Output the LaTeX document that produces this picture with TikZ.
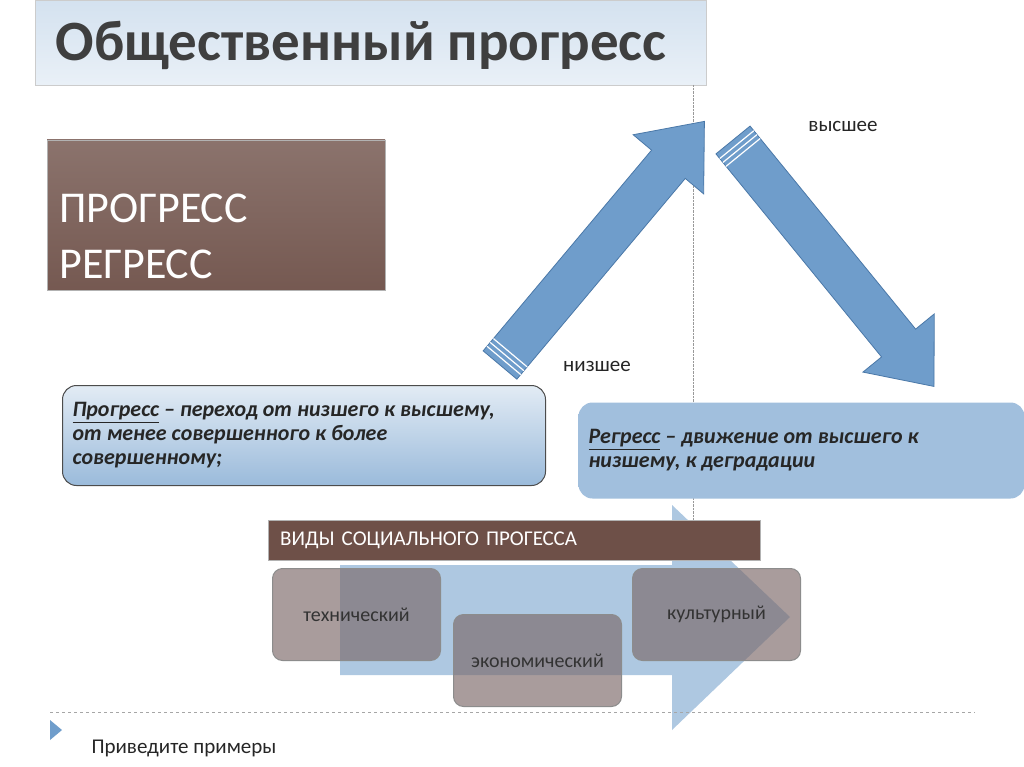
\documentclass[tikz,border=0pt]{standalone}
\usepackage{fontspec}
\setmainfont{Carlito}
\usetikzlibrary{positioning}
\definecolor{arrowblue}{HTML}{6F9DCB}
\definecolor{arrowedge}{HTML}{4A78A8}
\definecolor{boxbrown}{HTML}{6E5048}
\definecolor{kindbox}{HTML}{7B6868}
\definecolor{titlegray}{HTML}{3F3F3F}
\tikzset{
  bigarrow/.style={fill=arrowblue,draw=arrowedge,line width=0.8pt},
  stripe/.style={white,line width=1.2pt},
  defbox/.style={rounded corners=14pt,draw=black!70,line width=1pt,top color=white!80!arrowblue,bottom color=arrowblue!70,text=black!85,
    font=\fontsize{22}{24}\selectfont\bfseries\itshape,align=flush left,inner sep=10pt},
  kind/.style={rounded corners=10pt,fill=kindbox,fill opacity=0.65,draw=black!45,line width=1pt,minimum width=168pt,minimum height=92pt,
    text opacity=1,text=black!80,font=\fontsize{20}{24}\selectfont},
  lbl/.style={font=\fontsize{21}{24}\selectfont,text=black!85}
}
\begin{document}
\begin{tikzpicture}[x=1pt,y=1pt]
  \useasboundingbox (0,0) rectangle (1024,-767);
  \fill[white] (0,0) rectangle (1024,-767);
  % title
  \shade[top color=white!70!arrowblue,bottom color=white!85!arrowblue,draw=black!20] (35,0) rectangle (706,-85);
  \node[anchor=west,text=titlegray,font=\fontsize{57}{62}\selectfont\bfseries] (title) at (52,-45) {Общественный прогресс};
  \draw[black!40,densely dotted] (693,-85) -- (693,-520);
  % brown box
  \shade[top color=boxbrown!80,bottom color=boxbrown!95,draw=black!30] (47,-140) rectangle (385,-290);
  \node[anchor=west,text=white,align=left,font=\fontsize{44}{56}\selectfont] (words) at (56,-236) {ПРОГРЕСС\\РЕГРЕСС};
  % up arrow
  \begin{scope}[shift={(500,-365)},rotate=50]
    \draw[bigarrow] (0,-22) -- (262,-22) -- (262,-46) -- (318,0) -- (262,46) -- (262,22) -- (0,22) -- cycle;
    \foreach \s in {6,11,16} \draw[stripe] (\s,-22) -- (\s,22);
  \end{scope}
  % down arrow
  \begin{scope}[shift={(733,-140)},rotate=-50.8]
    \draw[bigarrow] (0,-22) -- (262,-22) -- (262,-46) -- (318,0) -- (262,46) -- (262,22) -- (0,22) -- cycle;
    \foreach \s in {6,11,16} \draw[stripe] (\s,-22) -- (\s,22);
  \end{scope}
  \node[lbl] (high) at (843,-126) {высшее};
  \node[lbl] (low) at (597,-366) {низшее};
  % definitions
  \node[defbox,anchor=north west,minimum height=100pt,text width=463pt] (prog) at (62,-385)
    {\underline{Прогресс} – переход от низшего к высшему,\\от менее совершенного к более\\совершенному;};
  \node[defbox,draw=none,top color=arrowblue!65,bottom color=arrowblue!65,anchor=north west,minimum height=96pt,text width=426pt] (regr) at (578,-402)
    {\underline{Регресс} – движение от высшего к\\низшему, к деградации};
  % big arrow behind kinds
  \fill[arrowblue!75,opacity=0.75] (340,-565) -- (672,-565) -- (672,-505) -- (790,-617) -- (672,-730) -- (672,-675) -- (340,-675) -- cycle;
  \node[fill=boxbrown,draw=black!30,text=white,anchor=north west,minimum height=40pt,inner xsep=12pt,
    font=\fontsize{21}{24}\selectfont,text width=468pt] (kinds) at (268,-520) {ВИДЫ СОЦИАЛЬНОГО ПРОГЕССА};
  \node[kind,anchor=north west] (tech) at (272,-568) {технический};
  \node[kind,anchor=north west] (econ) at (453,-614) {экономический};
  \node[kind,anchor=north west] (cult) at (632,-568) {культурный};
  % footer
  \draw[black!35,dashed] (50,-712) -- (975,-712);
  \fill[arrowblue] (50,-720) -- (62,-730) -- (50,-740) -- cycle;
  \node[lbl,anchor=west] (ask) at (88,-748) {Приведите примеры};
\end{tikzpicture}
\end{document}
